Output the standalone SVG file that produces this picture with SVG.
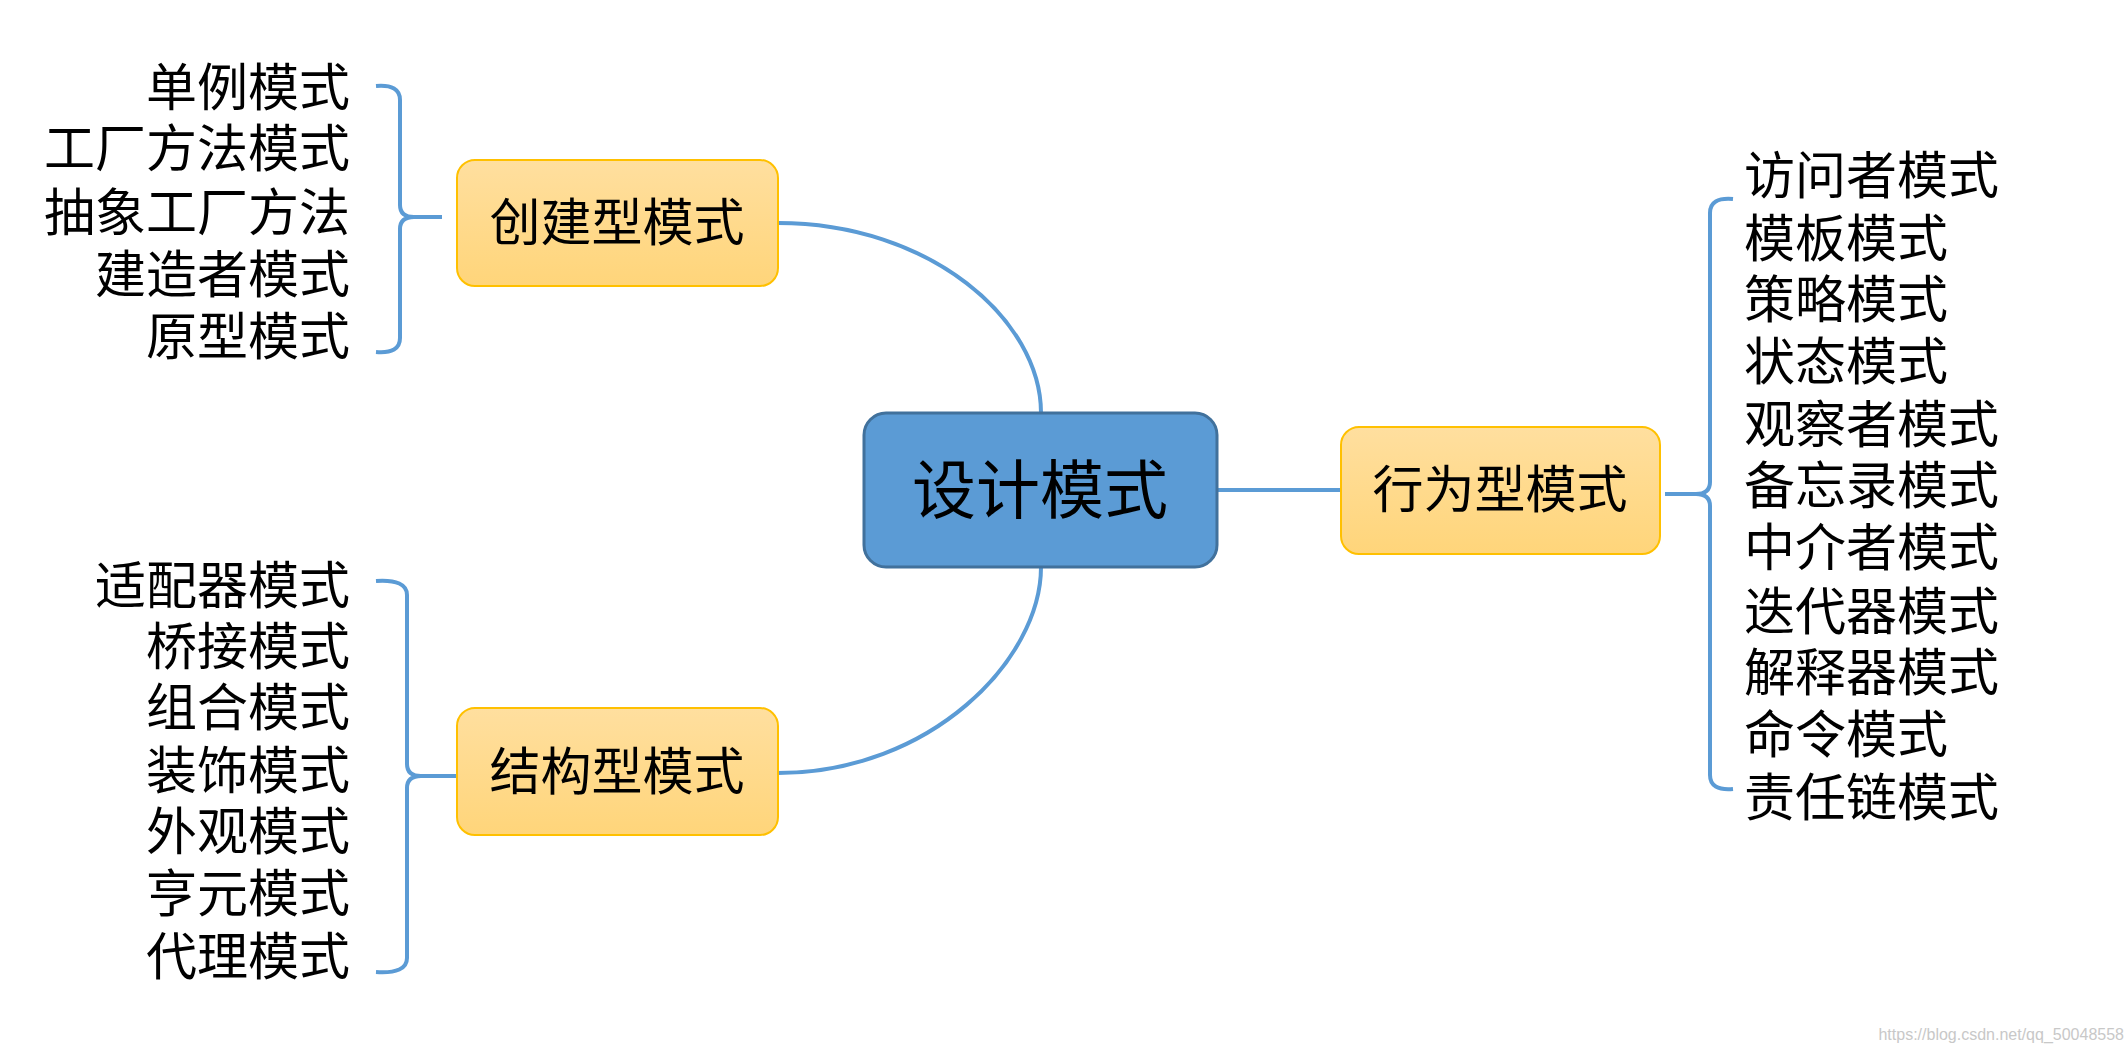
<svg xmlns="http://www.w3.org/2000/svg" width="2128" height="1053" viewBox="0 0 2128 1053">
<defs>
<linearGradient id="og" x1="0" y1="0" x2="0" y2="1"><stop offset="0" stop-color="#FFDF9F"/><stop offset="1" stop-color="#FFD57A"/></linearGradient>
<style>
.t{font-family:"Liberation Sans","Noto Sans CJK SC",sans-serif;font-size:51px;fill:#000}
.r{text-anchor:end}
.sub{fill:url(#og);stroke:#FFC000;stroke-width:2}
.ln{fill:none;stroke:#5B9BD5;stroke-width:4}
</style>
</defs>
<rect width="2128" height="1053" fill="#fff"/>
<g id="connectors">
<path class="ln" d="M778,223 C930,223 1041,320 1041,413"/>
<path class="ln" d="M1041,567 C1041,660 930,773 778,773"/>
<path class="ln" d="M1217,490 L1341,490"/>
<path class="ln" d="M376,86 Q400,84 400,100 L400,205 Q400,217 414,217 L442,217 M414,217 Q400,217 400,229 L400,338 Q400,354 376,352"/>
<path class="ln" d="M376,581 Q407,579 407,595 L407,764 Q407,776 421,776 L457,776 M421,776 Q407,776 407,788 L407,958 Q407,974 376,972"/>
<path class="ln" d="M1733,199 Q1710,197 1710,213 L1710,482 Q1710,494 1696,494 L1665,494 M1696,494 Q1710,494 1710,506 L1710,775 Q1710,791 1733,789"/>
</g>
<g id="center"><rect x="864" y="413" width="353" height="154" rx="22" fill="#5B9BD5" stroke="#41719C" stroke-width="3"/><text class="t" x="1040" y="513" text-anchor="middle" font-size="64" style="font-size:64px">设计模式</text></g>
<g id="creational"><rect class="sub" x="457" y="160" width="321" height="126" rx="18"/><text class="t" x="617" y="241" text-anchor="middle">创建型模式</text></g>
<g id="structural"><rect class="sub" x="457" y="708" width="321" height="127" rx="18"/><text class="t" x="617" y="790" text-anchor="middle">结构型模式</text></g>
<g id="behavioral"><rect class="sub" x="1341" y="427" width="319" height="127" rx="18"/><text class="t" x="1500" y="508" text-anchor="middle">行为型模式</text></g>
<g id="creational-list">
<text class="t r" x="350" y="106">单例模式</text>
<text class="t r" x="350" y="167">工厂方法模式</text>
<text class="t r" x="350" y="231">抽象工厂方法</text>
<text class="t r" x="350" y="293">建造者模式</text>
<text class="t r" x="350" y="355">原型模式</text>
</g>
<g id="structural-list">
<text class="t r" x="350" y="604">适配器模式</text>
<text class="t r" x="350" y="665">桥接模式</text>
<text class="t r" x="350" y="726">组合模式</text>
<text class="t r" x="350" y="789">装饰模式</text>
<text class="t r" x="350" y="850">外观模式</text>
<text class="t r" x="350" y="912">亨元模式</text>
<text class="t r" x="350" y="975">代理模式</text>
</g>
<g id="behavioral-list">
<text class="t" x="1744" y="194">访问者模式</text>
<text class="t" x="1744" y="257">模板模式</text>
<text class="t" x="1744" y="318">策略模式</text>
<text class="t" x="1744" y="380">状态模式</text>
<text class="t" x="1744" y="443">观察者模式</text>
<text class="t" x="1744" y="504">备忘录模式</text>
<text class="t" x="1744" y="566">中介者模式</text>
<text class="t" x="1744" y="630">迭代器模式</text>
<text class="t" x="1744" y="691">解释器模式</text>
<text class="t" x="1744" y="753">命令模式</text>
<text class="t" x="1744" y="816">责任链模式</text>
</g>
<text x="2124" y="1040" text-anchor="end" font-family="Liberation Sans,sans-serif" font-size="16" fill="#C8C8C8">https://blog.csdn.net/qq_50048558</text>
</svg>
